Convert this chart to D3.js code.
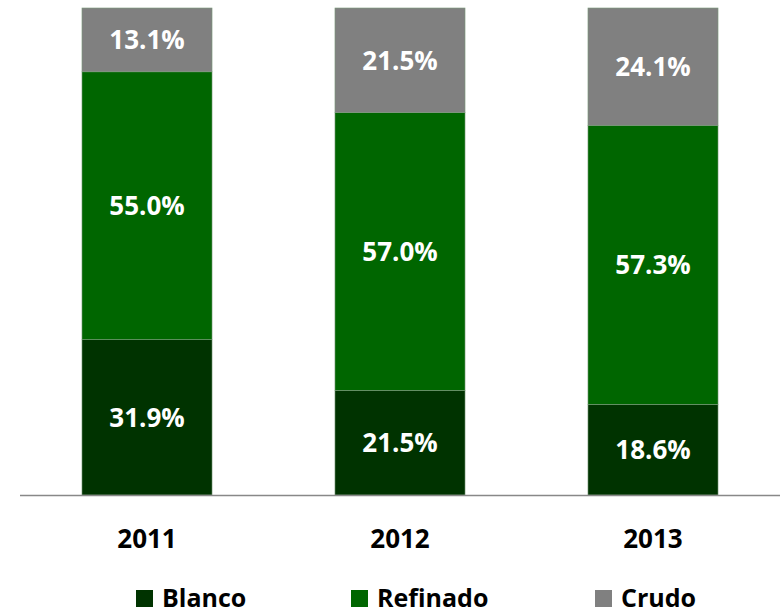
<!DOCTYPE html>
<html>
<head>
<meta charset="utf-8">
<script src="https://cdn.jsdelivr.net/npm/d3@7"></script>
<style>
  body { margin: 0; background: #fff; }
  text { font-family: "Open Sans", Lato, sans-serif; font-weight: bold; }
</style>
</head>
<body>
<div id="chart"></div>
<script>
const years = ["2011", "2012", "2013"];
const series = ["Blanco", "Refinado", "Crudo"];
const blanco = [31.9, 21.5, 18.6];
const refinado = [55.0, 57.0, 57.3];
const crudo = [13.1, 21.5, 24.1];
const colors = ["#003300", "#006600", "#808080"];

const width = 780, height = 613;
const svg = d3.select("#chart").append("svg")
    .attr("width", width)
    .attr("height", height);

// build rows for the stack
const rows = years.map((y, i) => ({ year: y, Blanco: blanco[i], Refinado: refinado[i], Crudo: crudo[i] }));
const stacked = d3.stack().keys(series)(rows);

const x = d3.scaleBand().domain(years).range([20, 780]).paddingInner(0.486).paddingOuter(0.245);
const y = d3.scaleLinear().domain([0, 100]).range([495, 8]);
const color = d3.scaleOrdinal().domain(series).range(colors);

const layers = svg.selectAll("g.layer")
    .data(stacked)
    .join("g")
    .attr("class", "layer")
    .attr("fill", d => color(d.key));

layers.selectAll("rect")
    .data(d => d)
    .join("rect")
    .attr("x", d => x(d.data.year))
    .attr("y", d => y(d[1]))
    .attr("width", x.bandwidth())
    .attr("height", d => y(d[0]) - y(d[1]))
    .attr("stroke", "#7a9a7a")
    .attr("stroke-width", 0.6);

// value labels
layers.selectAll("text")
    .data(d => d.map(v => ({ v, key: d.key })))
    .join("text")
    .attr("x", d => x(d.v.data.year) + x.bandwidth() / 2)
    .attr("y", d => (y(d.v[0]) + y(d.v[1])) / 2)
    .attr("dy", "0.36em")
    .attr("text-anchor", "middle")
    .attr("fill", "#fff")
    .attr("font-size", 26)
    .text(d => d.v.data[d.key].toFixed(1) + "%");

// baseline
svg.append("line")
    .attr("x1", 20).attr("x2", 780)
    .attr("y1", 495.5).attr("y2", 495.5)
    .attr("stroke", "#888")
    .attr("stroke-width", 1.5);

// year labels
svg.selectAll("text.year")
    .data(years)
    .join("text")
    .attr("class", "year")
    .attr("x", d => x(d) + x.bandwidth() / 2)
    .attr("y", 548)
    .attr("text-anchor", "middle")
    .attr("font-size", 26)
    .attr("fill", "#000")
    .text(d => d);

// legend
const legendX = [136, 351, 595];
const legend = svg.selectAll("g.legend")
    .data(series)
    .join("g")
    .attr("class", "legend")
    .attr("transform", (d, i) => `translate(${legendX[i]},590)`);

legend.append("rect")
    .attr("width", 17)
    .attr("height", 17)
    .attr("fill", d => color(d));

legend.append("text")
    .attr("x", 26)
    .attr("y", 17)
    .attr("font-size", 25)
    .attr("fill", "#000")
    .text(d => d);
</script>
</body>
</html>
